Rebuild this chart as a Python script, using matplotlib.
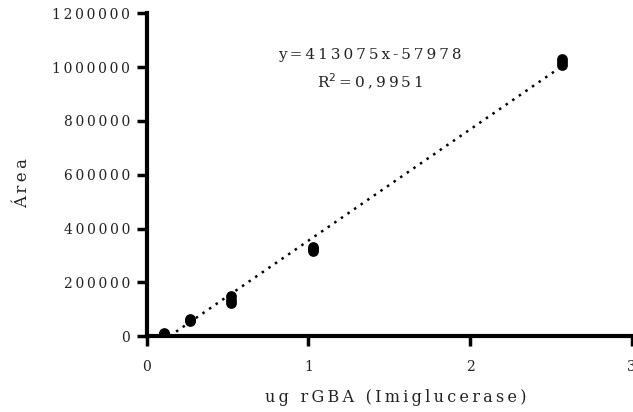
import matplotlib
matplotlib.use("Agg")
import matplotlib.pyplot as plt
import numpy as np

# standard curve data (ug rGBA vs peak area), triplicates per level
ug = [0.105, 0.105, 0.105, 0.266, 0.266, 0.266, 0.52, 0.52, 0.52,
      1.03, 1.03, 1.03, 2.57, 2.57, 2.57]
area = [8000, 10000, 12000, 58000, 62000, 64000, 122000, 135000, 150000,
        318000, 325000, 332000, 1008000, 1018000, 1030000]

slope = 413075
intercept = -57978
eq_text = "y=413075x-57978"
r2_value = "=0,9951"

xticks = [0, 1, 2, 3]
yticks = [0, 200000, 400000, 600000, 800000, 1000000, 1200000]

xlabel = "ug rGBA (Imiglucerase)"
ylabel = "Área"

TXT = "#222222"
SP = "\u2009"  # thin space, mimics the wide letter spacing of the original


def spaced(s):
    return SP.join(s)


plt.rcParams["font.family"] = ["DejaVu Serif", "DejaVu Sans"]

fig = plt.figure(figsize=(6.33, 4.12), dpi=100)
ax = fig.add_axes([0.232, 0.184, 0.766, 0.784])

ax.scatter(ug, area, s=60, color="black", zorder=3, linewidths=0)

xfit = np.array([-intercept / slope, max(ug)])
ax.plot(xfit, slope * xfit + intercept, color="black", linestyle=(0, (1, 2.2)),
        linewidth=1.8, zorder=2)

ax.text(0.46, 0.87, spaced(eq_text), transform=ax.transAxes, ha="center",
        va="center", fontsize=11, color=TXT)
ax.text(0.46, 0.786, "R$^2$" + SP + spaced(r2_value), transform=ax.transAxes,
        ha="center", va="center", fontsize=11, color=TXT)

ax.set_xlim(0, 3)
ax.set_ylim(0, 1200000)
ax.set_xticks(xticks)
ax.set_yticks(yticks)
ax.set_xticklabels([spaced(str(t)) for t in xticks])
ax.set_yticklabels([spaced(str(t)) for t in yticks])

for side in ("top", "right"):
    ax.spines[side].set_visible(False)
for side in ("left", "bottom"):
    ax.spines[side].set_linewidth(3)
ax.tick_params(width=2.5, length=7, labelsize=10, labelcolor=TXT)
ax.tick_params(axis="x", pad=10)
ax.tick_params(axis="y", pad=5)

ax.set_xlabel(spaced(xlabel), fontsize=11.5, labelpad=11, color=TXT)
ax.set_ylabel(spaced(ylabel), fontsize=12, labelpad=15, color=TXT)
ax.xaxis.label.set_x(0.513)
ax.yaxis.label.set_y(0.474)

fig.savefig("out.png", dpi=100)
